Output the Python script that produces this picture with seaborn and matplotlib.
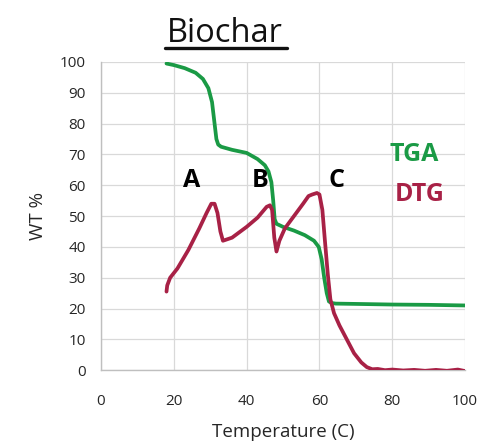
import matplotlib
matplotlib.use("Agg")
import matplotlib.pyplot as plt
from matplotlib.lines import Line2D
import seaborn as sns
import pandas as pd

# Thermogravimetric curve (weight %) vs temperature
tga_temp = [18, 20, 23, 26, 28, 29.5, 30.5, 31.2, 31.7, 32.2, 33, 36, 40, 43, 45, 46,
            46.8, 47.3, 47.7, 48.2, 50, 53, 56, 58.5, 59.8, 60.6, 61.3, 62, 62.6, 63.3,
            64.5, 70, 80, 90, 100]
tga_wt = [99.5, 99, 98, 96.5, 94.5, 91.5, 87, 80, 75, 73.2, 72.5, 71.5, 70.5, 68.5, 66.5,
          64.5, 61, 55, 49, 47.5, 46.5, 45.3, 43.8, 42, 40, 36, 30, 25, 22.3, 21.8,
          21.6, 21.5, 21.3, 21.2, 21]

# Derivative curve
dtg_temp = [18, 18.2, 19, 21, 24, 27, 29, 30.3, 31.2, 32, 32.8, 33.5, 36, 40, 43, 45.5,
            46.4, 47, 47.6, 48.2, 49, 50.5, 53, 55.5, 57, 58, 59.3, 60, 60.8, 61.5, 62.3,
            63, 64, 65.5, 67.5, 69.5, 71.5, 73, 74.5, 76, 78, 80, 83, 86, 89, 92, 95, 98, 100]
dtg_wt = [25.5, 27.5, 30, 33, 39, 46, 51, 54, 54, 51, 45, 42, 43, 46.5, 49.5, 53,
          53.5, 52, 43, 38.5, 42, 46, 50, 54, 56.5, 57, 57.5, 57, 52, 42, 31,
          23, 18.5, 14.5, 10, 5.5, 2.5, 1, 0.3, 0.4, 0, 0.2, -0.1, 0.1, -0.2, 0.1, -0.2, 0.2, -0.3]

x_ticks = [0, 20, 40, 60, 80, 100]
y_ticks = [0, 10, 20, 30, 40, 50, 60, 70, 80, 90, 100]

stage_labels = ["A", "B", "C"]
stage_x = [25, 43.7, 64.8]
stage_y = 61.5

GREEN = "#1a9a45"
CRIMSON = "#a82146"

sns.set_style("white")
plt.rcParams["font.family"] = ["Open Sans", "DejaVu Sans"]

fig = plt.figure(figsize=(4.83, 4.46), dpi=100)
ax = fig.add_axes([0.209, 0.170, 0.754, 0.691])

tga = pd.DataFrame({"temp": tga_temp, "wt": tga_wt})
dtg = pd.DataFrame({"temp": dtg_temp, "wt": dtg_wt})

sns.lineplot(data=tga, x="temp", y="wt", sort=False, color=GREEN, linewidth=2.7, ax=ax, zorder=3)
sns.lineplot(data=dtg, x="temp", y="wt", sort=False, color=CRIMSON, linewidth=2.7, ax=ax, zorder=4)

ax.set_xlim(0, 100)
ax.set_ylim(0, 100)
ax.set_xticks(x_ticks)
ax.set_yticks(y_ticks)
ax.grid(True, color="#d9d9d9", linewidth=0.9)
ax.set_axisbelow(True)
for side in ["top", "right"]:
    ax.spines[side].set_visible(False)
for side in ["left", "bottom"]:
    ax.spines[side].set_color("#bfbfbf")
    ax.spines[side].set_linewidth(1.0)
ax.tick_params(axis="both", direction="out", length=4, color="#bfbfbf",
               labelsize=11, labelcolor="#262626")
ax.tick_params(axis="x", pad=13)
ax.tick_params(axis="y", pad=7)

ax.set_xlabel("Temperature (C)", fontsize=13.5, color="#262626", labelpad=10)
ax.set_ylabel("WT %", fontsize=13.5, color="#262626", labelpad=9)

for lab, xv in zip(stage_labels, stage_x):
    ax.text(xv, stage_y, lab, fontsize=18, fontweight="bold", color="black",
            ha="center", va="center", zorder=5)

ax.text(86, 70, "TGA", fontsize=18, fontweight="bold", color=GREEN, ha="center", va="center")
ax.text(87.5, 57, "DTG", fontsize=18, fontweight="bold", color=CRIMSON, ha="center", va="center")

# Underlined title
fig.text(0.466, 0.905, "Biochar", fontsize=23.5, color="#111111", ha="center", va="baseline")
fig.add_artist(Line2D([0.342, 0.594], [0.892, 0.892], transform=fig.transFigure,
                      color="#111111", linewidth=2.4))

fig.savefig("out.png", dpi=100)
